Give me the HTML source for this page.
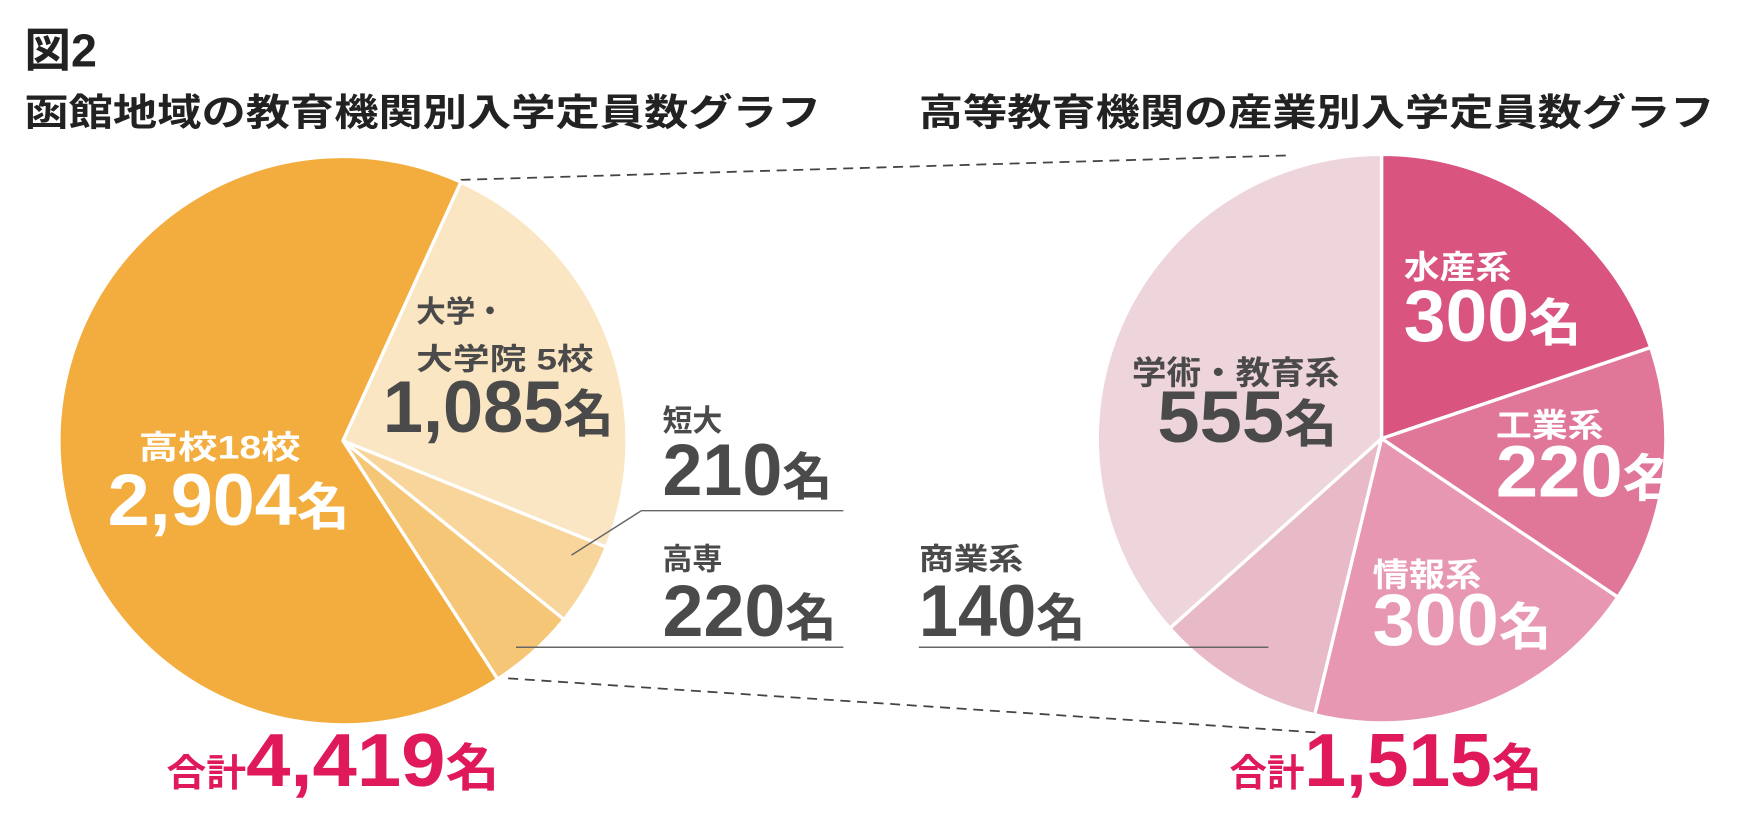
<!DOCTYPE html>
<html><head><meta charset="utf-8"><style>
html,body{margin:0;padding:0;background:#fff}
svg{display:block}
text{font-family:"Liberation Sans","Noto Sans CJK JP",sans-serif;font-weight:bold}
</style></head><body>
<svg width="1740" height="826" viewBox="0 0 1568 744" preserveAspectRatio="none" xmlns="http://www.w3.org/2000/svg">
<text x="22" y="60" font-size="42" fill="#222">図2</text>
<text x="22" y="113" font-size="34" fill="#222" textLength="718" lengthAdjust="spacingAndGlyphs">函館地域の教育機関別入学定員数グラフ</text>
<text x="828" y="113" font-size="34" fill="#222" textLength="717" lengthAdjust="spacingAndGlyphs">高等教育機関の産業別入学定員数グラフ</text>

<g stroke="#444" stroke-width="1.6" stroke-dasharray="9,6" fill="none">
<line x1="415" y1="162" x2="1160" y2="140"/>
<line x1="443" y1="610" x2="1190" y2="660"/>
</g>

<g stroke="#fff" stroke-width="3" stroke-linejoin="round">
<path d="M309,397 L415.3,164 A256,256 0 0,1 546.4,492.8 Z" fill="#fbe6c3"/>
<path d="M309,397 L546.4,492.8 A256,256 0 0,1 508.3,558.1 Z" fill="#f8d59a"/>
<path d="M309,397 L508.3,558.1 A256,256 0 0,1 448.4,611.7 Z" fill="#f6c677"/>
<path d="M309,397 L448.4,611.7 A256,256 0 1,1 415.3,164 Z" fill="#f3ad3e"/>

<path d="M1245,395 L1245,139 A256,256 0 0,1 1487.5,313 Z" fill="#d9547f"/>
<path d="M1245,395 L1487.5,313 A256,256 0 0,1 1457.9,537.9 Z" fill="#e07799"/>
<path d="M1245,395 L1457.9,537.9 A256,256 0 0,1 1184.7,643.8 Z" fill="#e897b3"/>
<path d="M1245,395 L1184.7,643.8 A256,256 0 0,1 1054.2,565.9 Z" fill="#e8bac7"/>
<path d="M1245,395 L1054.2,565.9 A256,256 0 0,1 1245,139 Z" fill="#eed4db"/>
</g>

<g stroke="#666" stroke-width="1.3" fill="none">
<polyline points="515,500 578,460 760,460"/>
<line x1="465" y1="583" x2="760" y2="583"/>
<line x1="828" y1="583" x2="1143" y2="583"/>
</g>

<g fill="#4a4a4a">
<text x="375" y="290" font-size="27" textLength="80" lengthAdjust="spacingAndGlyphs">大学・</text>
<text x="375" y="333" font-size="27" textLength="160" lengthAdjust="spacingAndGlyphs">大学院 5校</text>
<text x="345" y="389" font-size="66" textLength="208" lengthAdjust="spacingAndGlyphs">1,085<tspan font-size="46">名</tspan></text>
<text x="597" y="388" font-size="27">短大</text>
<text x="597" y="446" font-size="66" textLength="153" lengthAdjust="spacingAndGlyphs">210<tspan font-size="46">名</tspan></text>
<text x="597" y="513" font-size="27">高専</text>
<text x="597" y="573" font-size="66" textLength="157" lengthAdjust="spacingAndGlyphs">220<tspan font-size="46">名</tspan></text>
<text x="828" y="513" font-size="27" textLength="94" lengthAdjust="spacingAndGlyphs">商業系</text>
<text x="828" y="573" font-size="66" textLength="150" lengthAdjust="spacingAndGlyphs">140<tspan font-size="46">名</tspan></text>
<text x="1020" y="346" font-size="29" textLength="187" lengthAdjust="spacingAndGlyphs">学術・教育系</text>
<text x="1043" y="398" font-size="66" textLength="162" lengthAdjust="spacingAndGlyphs">555<tspan font-size="46">名</tspan></text>
</g>

<g fill="#fff">
<text x="125" y="413" font-size="29" textLength="146" lengthAdjust="spacingAndGlyphs">高校18校</text>
<text x="97" y="473" font-size="66" textLength="218" lengthAdjust="spacingAndGlyphs">2,904<tspan font-size="46">名</tspan></text>
<text x="1265" y="251" font-size="29" textLength="97" lengthAdjust="spacingAndGlyphs">水産系</text>
<text x="1265" y="307" font-size="66" textLength="160" lengthAdjust="spacingAndGlyphs">300<tspan font-size="46">名</tspan></text>
<text x="1348" y="393" font-size="29" textLength="97" lengthAdjust="spacingAndGlyphs">工業系</text>
<text x="1348" y="447" font-size="66" textLength="162" lengthAdjust="spacingAndGlyphs">220<tspan font-size="46">名</tspan></text>
<text x="1237" y="528" font-size="29" textLength="98" lengthAdjust="spacingAndGlyphs">情報系</text>
<text x="1237" y="581" font-size="66" textLength="161" lengthAdjust="spacingAndGlyphs">300<tspan font-size="46">名</tspan></text>
</g>

<g fill="#e0195a">
<text x="150" y="708" font-size="34" textLength="300" lengthAdjust="spacingAndGlyphs">合計<tspan font-size="68">4,419</tspan><tspan font-size="46">名</tspan></text>
<text x="1108" y="708" font-size="34" textLength="282" lengthAdjust="spacingAndGlyphs">合計<tspan font-size="68">1,515</tspan><tspan font-size="46">名</tspan></text>
</g>
</svg>
</body></html>
